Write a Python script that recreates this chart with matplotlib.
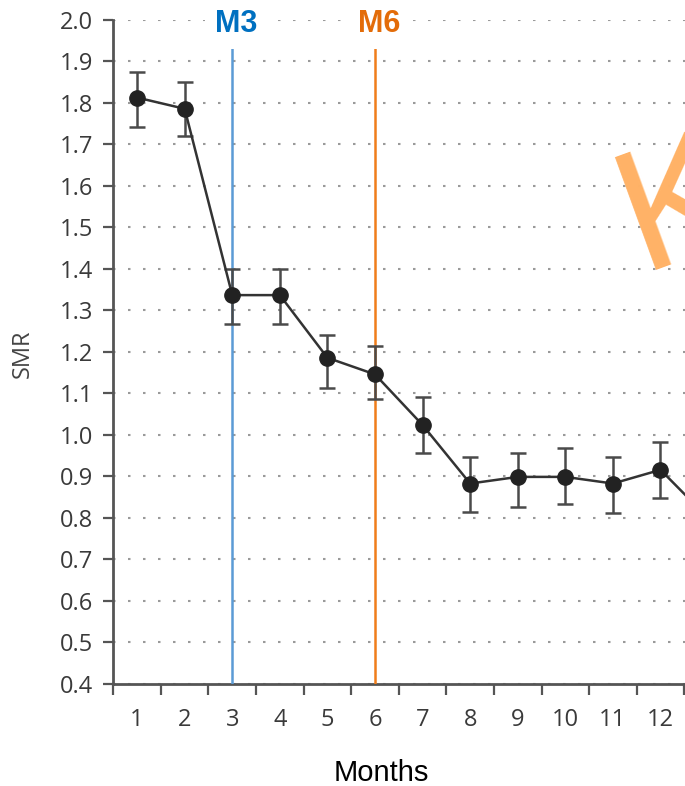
import numpy as np
import matplotlib
matplotlib.use('Agg')
from matplotlib import pyplot as plt
from matplotlib.ticker import FixedLocator, NullFormatter, FixedFormatter

# SMR by month (point, upper and lower end of the error bar)
months    = [1, 2, 3, 4, 5, 6, 7, 8, 9, 10, 11, 12, 13]
smr       = [1.813, 1.786, 1.337, 1.337, 1.186, 1.146, 1.024, 0.883, 0.899, 0.899, 0.883, 0.916, 0.80]
smr_upper = [1.875, 1.850, 1.400, 1.400, 1.242, 1.214, 1.091, 0.946, 0.956, 0.969, 0.946, 0.984, 0.87]
smr_lower = [1.741, 1.720, 1.267, 1.267, 1.114, 1.086, 0.957, 0.815, 0.826, 0.834, 0.813, 0.847, 0.73]

month_labels = ['1', '2', '3', '4', '5', '6', '7', '8', '9', '10', '11', '12']
y_ticks      = [0.4, 0.5, 0.6, 0.7, 0.8, 0.9, 1.0, 1.1, 1.2, 1.3, 1.4, 1.5, 1.6, 1.7, 1.8, 1.9, 2.0]

markers = [(3, 'M3', '#0070C0', '#5B9BD5'),
           (6, 'M6', '#E36C09', '#F07D1A')]

TICK_FONT = 'Open Sans'
TICK_CLR  = '#3a3a3a'
AXIS_CLR  = '#555555'

fig = plt.figure(figsize=(6.85, 7.86), dpi=100)
ax  = fig.add_axes([0.1654, 0.1298, 0.8346, 0.8448])

yerr = [np.array(smr) - np.array(smr_lower), np.array(smr_upper) - np.array(smr)]
ax.errorbar(months, smr, yerr=yerr,
    fmt             = '-o',
    color           = '#333333',
    linewidth       = 1.8,
    markersize      = 11,
    markerfacecolor = '#222222',
    markeredgecolor = '#222222',
    ecolor          = '#4a4a4a',
    elinewidth      = 1.8,
    capsize         = 6,
    capthick        = 1.8,
    zorder          = 4)

# month markers
for xm, name, tclr, lclr in markers:
  ax.vlines(xm, 0.4, 1.932, colors=lclr, linewidth=1.8, zorder=3)
  ax.text(xm + 0.09, 1.972, name,
      ha='center', va='baseline', fontsize=22, fontweight='bold',
      family='Liberation Sans', color=tclr, clip_on=False, zorder=5,
      bbox=dict(boxstyle='square,pad=0.35', fc='white', ec='none'))

ax.set_xlim(0.5, 12.515)
ax.set_ylim(0.4, 2.0)

for s in ('top', 'right'):
  ax.spines[s].set_visible(False)
for s in ('left', 'bottom'):
  ax.spines[s].set_color(AXIS_CLR)
  ax.spines[s].set_linewidth(2)

ax.set_yticks(y_ticks)
ax.set_yticklabels([f"{v:.1f}" for v in y_ticks])
ax.tick_params(axis='y', length=7.5, width=1.6, color=AXIS_CLR, pad=7,
               labelsize=17, labelcolor=TICK_CLR)

# tick marks sit between the months, labels at the months
ax.xaxis.set_major_locator(FixedLocator(np.arange(0.5, 13.0, 1.0)))
ax.xaxis.set_major_formatter(NullFormatter())
ax.xaxis.set_minor_locator(FixedLocator(months[:12]))
ax.xaxis.set_minor_formatter(FixedFormatter(month_labels))
ax.tick_params(axis='x', which='major', length=8, width=1.6, color=AXIS_CLR)
ax.tick_params(axis='x', which='minor', length=0, pad=17,
               labelsize=17, labelcolor=TICK_CLR)
for lab in ax.get_xticklabels(minor=True) + ax.get_yticklabels():
  lab.set_family(TICK_FONT)

ax.grid(axis='y', color='#9a9a9a', linestyle=(0, (1.2, 6)), linewidth=1.5)
ax.set_axisbelow(True)

fig.text(23/685, 1 - 354/786, 'SMR', rotation=90, ha='center', va='center',
         fontsize=17, family=TICK_FONT, color='#444444')
fig.text(381.7/685, 1 - 780.7/786, 'Months', ha='center', va='baseline',
         fontsize=21, family='Liberation Sans', color='black')

# watermark letter, cut by the right edge
fig.text(0.937, 0.6565, 'K', rotation=20, rotation_mode='anchor',
         ha='left', va='baseline', fontsize=125, family='Liberation Sans',
         color='#FFB266', zorder=10)

fig.savefig('out.png', dpi=100)
